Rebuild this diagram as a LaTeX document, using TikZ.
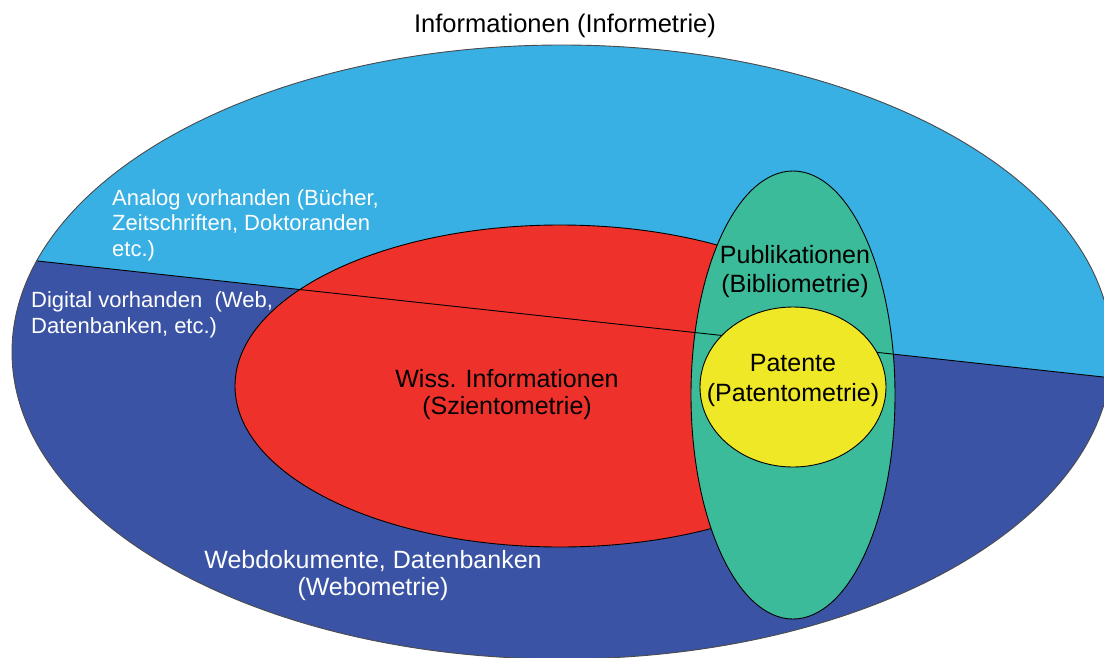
\documentclass[tikz,border=0pt]{standalone}
\usepackage{fontspec}
\setmainfont{Liberation Sans}
\usetikzlibrary{positioning}
\definecolor{hellblau}{HTML}{38B0E4}
\definecolor{dunkelblau}{HTML}{3A53A4}
\definecolor{rot}{HTML}{EE322B}
\definecolor{gruen}{HTML}{3BBB99}
\definecolor{gelb}{HTML}{EFE827}
\tikzset{
	rand/.style={line width=0.9pt, draw=black},
	schrift/.style={font=\fontsize{25}{27}\selectfont, align=center, inner sep=0pt},
	hell/.style={schrift, text=white},
	klein/.style={hell, font=\fontsize{22}{25.5}\selectfont, align=left, anchor=west},
}

\begin{document}
\begin{tikzpicture}[x=1pt, y=-1pt]
			%%%%% START %%%%%
			\useasboundingbox (0,0) rectangle (1104,657);
			\clip (0,0) rectangle (1104,657);
			
			% Informationen: unten digital, oben analog
			\fill[dunkelblau] (562,352) ellipse (550pt and 307pt);
			\begin{scope}
				\clip (562,352) ellipse (550pt and 307pt);
				\fill[hellblau] (0,0) -- (1120,0) -- (1120,378.8) -- (0,256.9) -- cycle;
			\end{scope}
			
			\draw[rand, fill=rot] (560,386) ellipse (325pt and 161pt);
			\draw[rand, fill=gruen] (793,395) ellipse (102pt and 224pt);
			
			% Trennlinie analog / digital
			\begin{scope}
				\clip (562,352) ellipse (550pt and 307pt);
				\draw[rand] (0,256.9) -- (1120,378.8);
			\end{scope}
			
			\draw[rand, fill=gelb] (793,387) ellipse (93pt and 80pt);
			\draw[line width=0.9pt, draw=black!70] (562,352) ellipse (550pt and 307pt);
			
			\node[schrift, font=\fontsize{25.5}{27}\selectfont] (titel) at (565,26) {Informationen (Informetrie)};
			\node[klein] (analog) at (112,225) {Analog vorhanden (Bücher,\\Zeitschriften, Doktoranden\\etc.)};
			\node[klein] (digital) at (31,315) {Digital vorhanden\ \ (Web,\\Datenbanken, etc.)};
			\node[schrift] (wiss) at (507,395) {Wiss. Informationen\\(Szientometrie)};
			\node[schrift] (publ) at (795,272) {Publikationen\\[2pt](Bibliometrie)};
			\node[schrift] (patente) at (793,380) {Patente\\[3pt](Patentometrie)};
			\node[hell] (web) at (373,576) {Webdokumente, Datenbanken\\(Webometrie)};
			
			%%%%% END %%%%%
\end{tikzpicture}
\end{document}
